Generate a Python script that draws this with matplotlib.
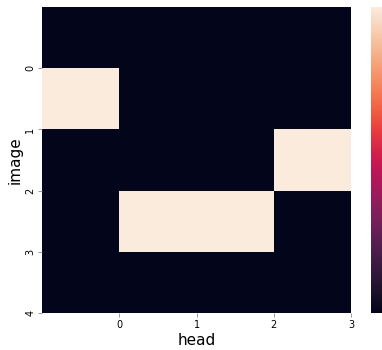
import numpy as np
import matplotlib
matplotlib.use("Agg")
import matplotlib.pyplot as plt
import seaborn as sns

# attention mask: rows = image, columns = head
images = [0, 1, 2, 3, 4]
heads = [0, 1, 2, 3]
mask = np.array([
    [0, 0, 0, 0],
    [1, 0, 0, 0],
    [0, 0, 0, 1],
    [0, 1, 1, 0],
    [0, 0, 0, 0],
])

fig = plt.figure(figsize=(3.82, 3.5), dpi=100)
ax = fig.add_axes([0.110, 0.1057, 0.809, 0.874])
cax = fig.add_axes([0.971, 0.1057, 0.04, 0.874])

sns.heatmap(mask, ax=ax, cbar_ax=cax, cmap="rocket")

ax.set_xticks(np.array(heads) + 1)
ax.set_xticklabels(heads, fontsize=7, rotation=0)
ax.set_yticks(np.array(images) + 1)
ax.set_yticklabels(images, fontsize=7, rotation=90, va="center")
ax.set_xlabel("head", fontsize=11, labelpad=2)
ax.set_ylabel("image", fontsize=11, labelpad=2)
ax.tick_params(length=3, width=0.6, color="#888888", pad=2)
# colorbar labels fall outside the cropped figure
cax.tick_params(right=False, labelright=False)

fig.savefig("out.png", dpi=100)
